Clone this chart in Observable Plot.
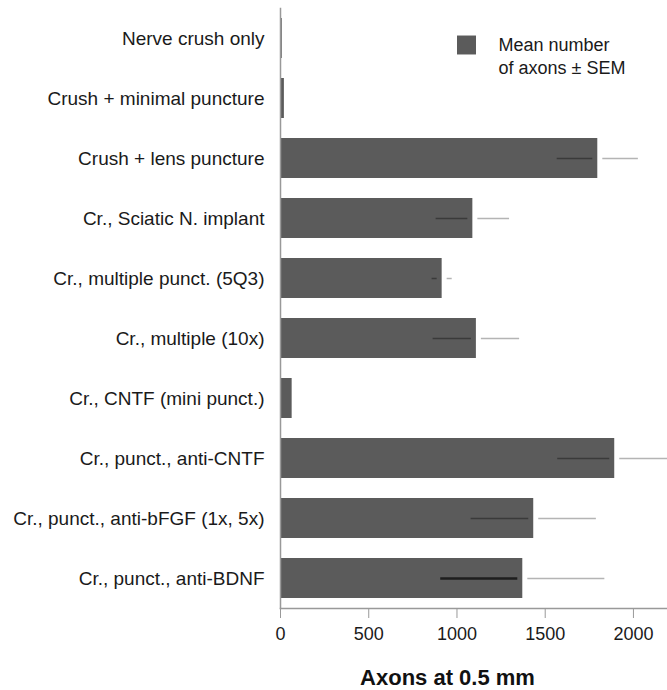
<!DOCTYPE html>
<html><head><meta charset="utf-8">
<script src="https://cdn.jsdelivr.net/npm/d3@7"></script>
<script src="https://cdn.jsdelivr.net/npm/@observablehq/plot@0.6"></script>
<style>html,body{margin:0;padding:0;background:#fff;overflow:hidden;} #chart svg{display:block;}</style>
</head><body><div id="chart"></div>
<script>
const categories = [
  "Nerve crush only",
  "Crush + minimal puncture",
  "Crush + lens puncture",
  "Cr., Sciatic N. implant",
  "Cr., multiple punct. (5Q3)",
  "Cr., multiple (10x)",
  "Cr., CNTF (mini punct.)",
  "Cr., punct., anti-CNTF",
  "Cr., punct., anti-bFGF (1x, 5x)",
  "Cr., punct., anti-BDNF"
];
const means = [10, 22, 1798, 1090, 916, 1110, 66, 1894, 1435, 1373];
const sems  = [0, 0, 230, 208, 57, 245, 0, 323, 355, 465];
const xTicks = [0, 500, 1000, 1500, 2000];
const legendLabel = "Mean number\nof axons ± SEM";
const xTitle = "Axons at 0.5 mm";

const data = categories.map((c, i) => ({c, mean: means[i], lo: means[i] - sems[i], hi: means[i] + sems[i], sem: sems[i]}));
const withErr = data.filter(d => d.sem > 0);
const barColor = "#5b5b5b";
const font = "'Liberation Sans', Arial, Helvetica, sans-serif";
const lastCat = categories[categories.length - 1];

const plot = Plot.plot({
  width: 667, height: 690,
  marginLeft: 280, marginRight: 0, marginTop: 8, marginBottom: 82,
  style: {fontFamily: font, background: "#fff"},
  x: {domain: [0, 2193], clamp: true},
  y: {domain: categories, paddingInner: 0.34, paddingOuter: 0.15},
  marks: [
    Plot.barX(data, {x: "mean", y: "c", fill: barColor}),
    Plot.ruleY(withErr, {y: "c", x1: "lo", x2: "mean", stroke: d => d.c === lastCat ? "#1e1e1e" : "#3a3a3a", strokeWidth: d => d.c === lastCat ? 2.5 : 1.5, insetRight: 5}),
    Plot.ruleY(withErr, {y: "c", x1: "mean", x2: "hi", stroke: "#b4b4b4", strokeWidth: 1.5, insetLeft: 5}),
    Plot.frame({anchor: "left", stroke: "#999", strokeWidth: 1.5}),
    Plot.frame({anchor: "bottom", stroke: "#999", strokeWidth: 1.5}),
    Plot.axisY({tickSize: 0, tickPadding: 16, fontSize: 19, fill: "#1a1a1a", label: null}),
    Plot.axisX({ticks: xTicks, tickFormat: "d", tickSize: 10, tickPadding: 9, fontSize: 18, stroke: "#999", fill: "#1a1a1a", label: null}),
    Plot.dot([legendLabel], {frameAnchor: "top-right", dx: -201, dy: 36.5, symbol: "square", r: 10.7, fill: barColor}),
    Plot.text([legendLabel], {frameAnchor: "top-right", dx: -169, dy: 26, text: d => d, textAnchor: "start", lineAnchor: "top", lineHeight: 1.28, fontSize: 18, fill: "#1a1a1a"}),
    Plot.text([xTitle], {frameAnchor: "bottom", dx: -26.5, dy: 69, text: d => d, lineAnchor: "middle", fontSize: 22, fontWeight: "bold", fill: "#111"})
  ]
});
document.getElementById("chart").appendChild(plot);
</script>
</body></html>
